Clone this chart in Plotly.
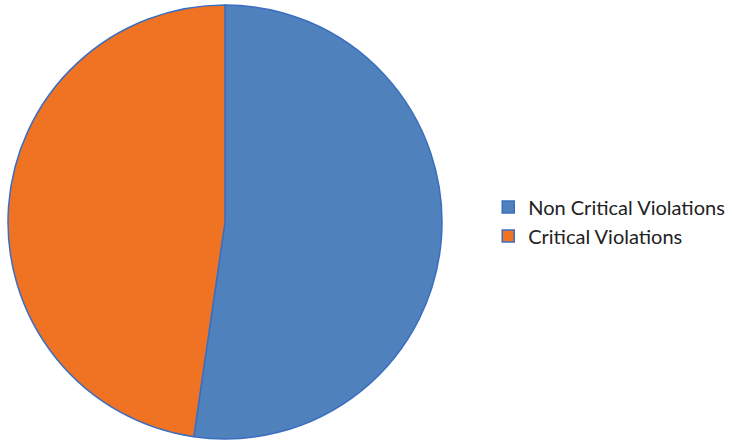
import plotly.graph_objects as go

labels = ["Non Critical Violations", "Critical Violations"]
values = [52.3, 47.7]
colors = ["#4F81BD", "#F07323"]

fig = go.Figure(go.Pie(
    labels=labels,
    values=values,
    sort=False,
    direction="clockwise",
    rotation=0,
    textinfo="none",
    hoverinfo="label+percent",
    marker=dict(colors=colors, line=dict(color="#3C6EC0", width=1.5)),
    domain=dict(x=[8/732, 442/732], y=[4/443, 438/443]),
))

fig.update_layout(
    width=732, height=443,
    margin=dict(l=0, r=0, t=0, b=0),
    paper_bgcolor="white",
    plot_bgcolor="white",
    showlegend=True,
    legend=dict(
        x=0.667, y=0.5, xanchor="left", yanchor="middle",
        font=dict(family="Lato, Carlito, Calibri, sans-serif", size=20, color="#222222"),
        itemwidth=30,
    ),
)

fig.write_html(
    "out.html",
    config={"displayModeBar": False},
    post_script="document.body.style.margin='0';document.body.style.overflow='hidden';",
)
